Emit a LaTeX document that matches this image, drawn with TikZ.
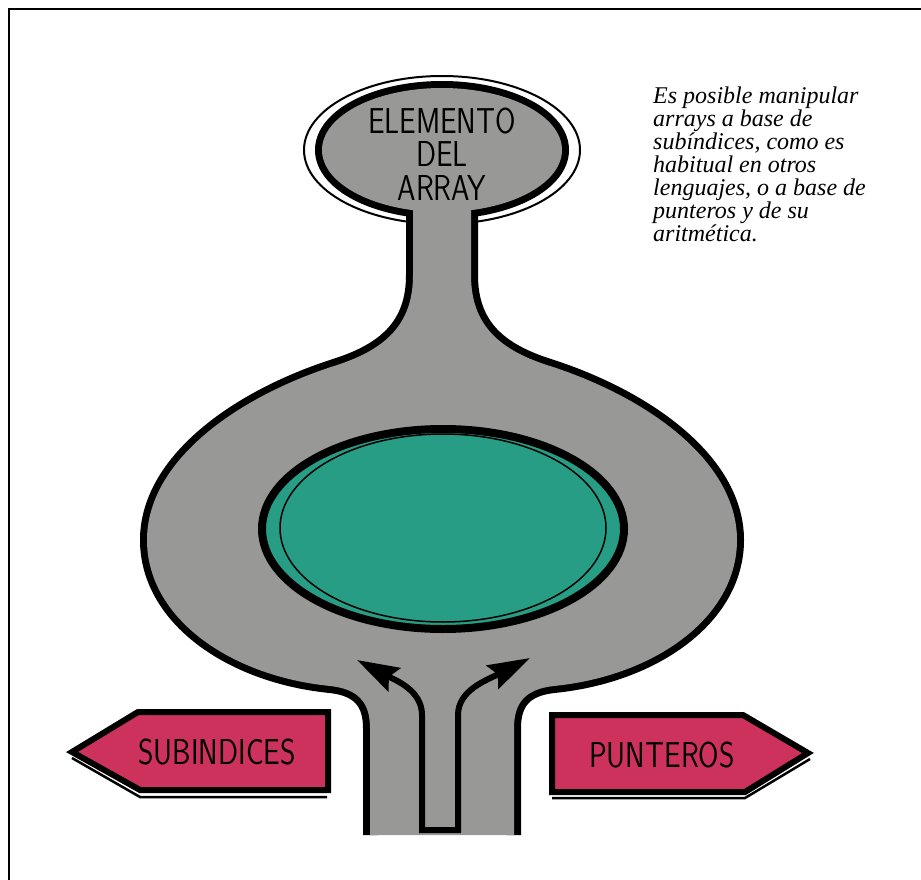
\documentclass[tikz,border=0pt]{standalone}
\usepackage{fontspec}
\usetikzlibrary{arrows.meta}

\newfontfamily\notefont{Liberation Serif}

\definecolor{bodygray}{RGB}{152,153,151}
\definecolor{poolgreen}{RGB}{40,157,133}
\definecolor{signred}{RGB}{204,50,92}

\tikzset{
  edgeline/.style={draw=black,line width=14pt},
  signbox/.style={draw=black,fill=signred,line width=6pt,line join=miter},
  shadowline/.style={line width=2.5pt},
  bigcaps/.style={font=\sffamily\fontsize{36}{33.5}\selectfont,inner sep=0pt,align=center},
  flowline/.style={line width=6pt,line join=miter,
    {Stealth[length=42pt,width=26pt,inset=6pt]}-{Stealth[length=42pt,width=26pt,inset=6pt]}}
}

% outline of neck, body and stem (open at the bottom)
\newcommand{\bodyoutline}{(370,835) -- (370,728)
  .. controls (370,702) and (358,689) .. (330,686)
  .. controls (230,676) and (147,618) .. (147,540)
  .. controls (147,462) and (235,398) .. (334,366)
  .. controls (385,350) and (413,325) .. (413,275)
  -- (413,200) -- (471,200) -- (471,275)
  .. controls (471,325) and (499,350) .. (550,366)
  .. controls (649,398) and (737,462) .. (737,540)
  .. controls (737,618) and (654,676) .. (554,686)
  .. controls (526,689) and (514,702) .. (514,728)
  -- (514,835)}

\begin{document}
\begin{tikzpicture}[x=1pt,y=-1pt]
  \useasboundingbox (0,0) rectangle (921,880);

  \draw[line width=2.5pt] (9,880) -- (9,9) -- (921,9);

  % head ring
  \draw[fill=white,line width=2pt] (442,150) ellipse (138 and 74);

  % black edge first, gray on top of it
  \draw[edgeline] \bodyoutline;
  \draw[edgeline] (442,150) ellipse (120 and 62);
  \fill[bodygray] \bodyoutline -- cycle;
  \fill[bodygray] (442,150) ellipse (120 and 62);

  \draw[fill=poolgreen,line width=8pt] (443,529) ellipse (181 and 100);
  \draw[line width=1.5pt] (443,528) ellipse (163 and 94);

  \draw[flowline] (357,660) .. controls (395,680) and (422,690) .. (422,715)
    -- (422,830) -- (458,830) -- (458,715)
    .. controls (458,690) and (487,680) .. (530,658);

  \node[bigcaps] (element) at (442,154) {\scalebox{0.82}[1]{ELEMENTO}\\
    \scalebox{0.82}[1]{DEL}\\ \scalebox{0.82}[1]{ARRAY}};

  \node[anchor=north west,inner sep=0pt,align=left,
    font=\notefont\itshape\fontsize{24}{23}\selectfont] (note) at (653,87)
    {Es posible manipular\\
     arrays a base de\\
     subíndices, como es\\
     habitual en otros\\
     lenguajes, o a base de\\
     punteros y de su\\
     aritmética.};

  % signs
  \draw[shadowline] (72,758) -- (140,797) -- (327,797);
  \draw[signbox] (72,752) -- (138,712) -- (328,712) -- (328,790) -- (140,790) -- cycle;
  \draw[shadowline] (552,798) -- (745,798) -- (810,759);
  \draw[signbox] (552,715) -- (743,715) -- (808,753) -- (745,792) -- (552,792) -- cycle;

  \begin{scope}[every node/.style={font=\sffamily\fontsize{36}{36}\selectfont,inner sep=0pt}]
    \node (subindices) at (217,752) {\scalebox{0.82}[1]{SUBINDICES}};
    \node (punteros) at (662,755) {\scalebox{0.82}[1]{PUNTEROS}};
  \end{scope}

\end{tikzpicture}
\end{document}
